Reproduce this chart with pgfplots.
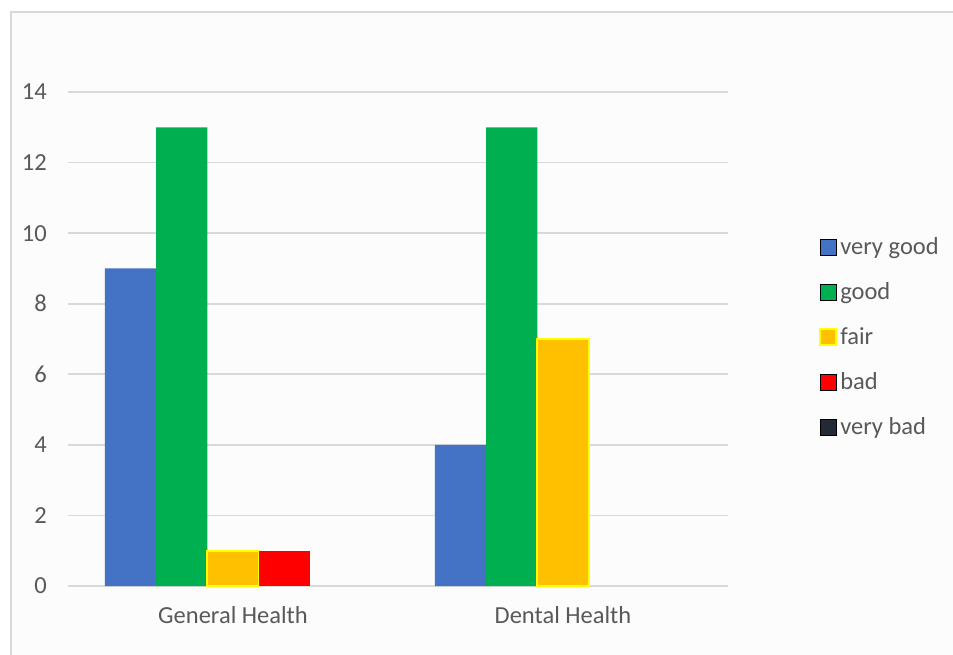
\documentclass[border=0pt]{standalone}
\usepackage{pgfplots}
\pgfplotsset{compat=1.18}
\usepackage{fontspec}
\setmainfont{Carlito}
\definecolor{cvgood}{HTML}{4472C4}
\definecolor{cgood}{HTML}{00B050}
\definecolor{cfair}{HTML}{FFC000}
\definecolor{cfairedge}{HTML}{FFFF00}
\definecolor{cbad}{HTML}{FF0000}
\definecolor{cvbad}{HTML}{222A35}
\definecolor{cgrid}{HTML}{D9D9D9}
\definecolor{ctext}{HTML}{595959}
\definecolor{cbg}{HTML}{FCFCFC}
\begin{document}
\begin{tikzpicture}
\useasboundingbox (-68bp,-69bp) rectangle (885bp,586bp);
\fill[cbg] (-57bp,-69bp) rectangle (885bp,574bp);
\draw[cgrid, line width=2bp] (-57bp,-70bp) -- (-57bp,574bp) -- (886bp,574bp);
\begin{axis}[
  at={(0,0)}, anchor=south west,
  scale only axis,
  width=660bp, height=494bp,
  ymin=0, ymax=14, ytick={0,2,...,14},
  xmin=-0.5, xmax=1.5,
  xtick={0,1}, xticklabels={General Health, Dental Health},
  ybar=0pt, bar width=0.1553,
  axis line style={draw=none},
  major tick length=0pt,
  ymajorgrids, grid style={cgrid, line width=1.6bp},
  /pgf/number format/assume math mode=true,
  ticklabel style={font=\fontsize{24.5bp}{28bp}\selectfont, text=ctext},
  yticklabel style={anchor=east, inner sep=0pt, xshift=-21bp},
  xticklabel style={anchor=center, inner sep=0pt, yshift=-29bp},
  legend style={at={(1.138,0.504)}, anchor=west, draw=none, fill=none,
    font=\fontsize{24.5bp}{28bp}\selectfont, text=ctext, row sep=22.5bp,
    inner sep=0pt, /tikz/every odd column/.append style={column sep=1bp}},
  legend cell align=left,
  legend image code/.code={\draw[#1] (0bp,-8bp) rectangle (16bp,8bp);},
  unbounded coords=discard,
  y filter/.expression={y==0 ? nan : y},
]
\addplot[fill=cvgood, draw=none, bar shift=-0.3106] coordinates {(0,9) (1,4)};
\addplot[fill=cgood, draw=none, bar shift=-0.1553] coordinates {(0,13) (1,13)};
\addplot[fill=cfair, draw=cfairedge, line width=2bp, bar shift=0] coordinates {(0,1) (1,7)};
\addplot[fill=cbad, draw=none, bar shift=0.1553] coordinates {(0,1) (1,0)};
\addplot[fill=cvbad, draw=none, bar shift=0.3106, forget plot] coordinates {(0,0) (1,0)};
\addlegendimage{fill=cvbad, draw=none}
\legend{very good, good, fair, bad, very bad}
\end{axis}
\end{tikzpicture}
\end{document}
